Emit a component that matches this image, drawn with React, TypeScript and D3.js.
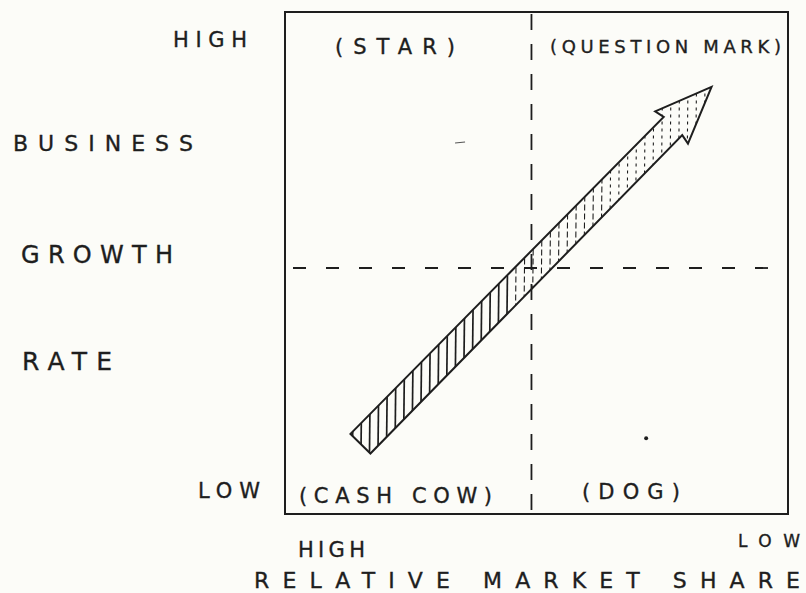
import React, { useEffect, useRef } from 'react';
import * as d3 from 'd3';

// axis words and quadrant names, as lettered on the sheet
const growthTicks = ['HIGH', 'LOW'];
const shareTicks = ['HIGH', 'LOW'];
const growthTitle = ['BUSINESS', 'GROWTH', 'RATE'];
const shareTitle = 'RELATIVE MARKET SHARE';
const quadrantNames = ['(STAR)', '(QUESTION MARK)', '(CASH COW)', '(DOG)'];

// where the dashed dividers cut each axis (0..1 across the box)
const shareSplit = 0.49;
const growthSplit = 0.49;

// the movement arrow, tail -> head, in box units (x left->right, y bottom->top)
const arrowTail = [0.15, 0.14];
const arrowHead = [0.848, 0.851];

// stray pencil marks on the original
const specks = [
  { x: 0.348, y: 0.739, kind: 'dash' },
  { x: 0.718, y: 0.151, kind: 'dot' },
];

const W = 806;
const H = 593;
const box = { left: 285, right: 788, top: 12, bottom: 514 };
const ink = '#1e1e1e';
const font = '"DejaVu Sans", sans-serif';

function App() {
  const ref = useRef<SVGSVGElement>(null);

  useEffect(() => {
    drawChart();
  }, []);

  function drawChart() {
    const svg = d3.select(ref.current);
    svg.selectAll('*').remove();

    const x = d3.scaleLinear().domain([0, 1]).range([box.left, box.right]);
    const y = d3.scaleLinear().domain([0, 1]).range([box.bottom, box.top]);

    svg.append('rect').attr('width', W).attr('height', H).attr('fill', '#fcfcf8');

    // frame
    svg
      .append('rect')
      .attr('x', x(0))
      .attr('y', y(1))
      .attr('width', x(1) - x(0))
      .attr('height', y(0) - y(1))
      .attr('fill', 'none')
      .attr('stroke', ink)
      .attr('stroke-width', 2);

    // dividers
    svg
      .append('line')
      .attr('x1', x(shareSplit))
      .attr('x2', x(shareSplit))
      .attr('y1', y(1) + 2)
      .attr('y2', y(0) - 2)
      .attr('stroke', ink)
      .attr('stroke-width', 1.8)
      .attr('stroke-dasharray', '16 14');
    svg
      .append('line')
      .attr('x1', x(0) + 8)
      .attr('x2', x(1) - 8)
      .attr('y1', y(growthSplit))
      .attr('y2', y(growthSplit))
      .attr('stroke', ink)
      .attr('stroke-width', 1.8)
      .attr('stroke-dasharray', '13 20');

    // arrow outline built along its own axis
    const tx = x(arrowTail[0]);
    const ty = y(arrowTail[1]);
    const hx = x(arrowHead[0]);
    const hy = y(arrowHead[1]);
    const len = Math.hypot(hx - tx, hy - ty);
    const ux = (hx - tx) / len;
    const uy = (hy - ty) / len;
    const nx = -uy;
    const ny = ux;
    const shaftHalf = 14;
    const headHalf = 23;
    const headLen = 55;
    const pt = (a: number, p: number): [number, number] => [tx + ux * a + nx * p, ty + uy * a + ny * p];
    const outline = [
      pt(0, -shaftHalf),
      pt(len - headLen, -shaftHalf + 1),
      pt(len - headLen - 2, -headHalf),
      pt(len, 0),
      pt(len - headLen - 2, headHalf),
      pt(len - headLen, shaftHalf - 1),
      pt(0, shaftHalf),
    ];

    const defs = svg.append('defs');
    defs
      .append('clipPath')
      .attr('id', 'arrow-clip')
      .append('path')
      .attr('d', d3.line()(outline) + 'Z');

    // hatching: firm strokes at the tail, broken ones toward the head
    const xs = outline.map(p => p[0]);
    const ys = outline.map(p => p[1]);
    const hatch = svg.append('g').attr('clip-path', 'url(#arrow-clip)');
    const [minX, maxX] = d3.extent(xs) as [number, number];
    const [minY, maxY] = d3.extent(ys) as [number, number];
    d3.range(minX + 4, maxX, 8.5).forEach(hxPos => {
      const frac = (hxPos - minX) / (maxX - minX);
      hatch
        .append('line')
        .attr('x1', hxPos - 2)
        .attr('x2', hxPos + 2)
        .attr('y1', maxY)
        .attr('y2', minY)
        .attr('stroke', ink)
        .attr('stroke-width', frac < 0.45 ? 1.7 : 1.1)
        .attr('stroke-dasharray', frac < 0.45 ? null : frac < 0.7 ? '6 3' : '3 4');
    });

    svg
      .append('path')
      .attr('d', d3.line()(outline) + 'Z')
      .attr('fill', 'none')
      .attr('stroke', ink)
      .attr('stroke-width', 2)
      .attr('stroke-linejoin', 'miter');

    // stray marks
    specks.forEach(s => {
      if (s.kind === 'dot') {
        svg.append('circle').attr('cx', x(s.x)).attr('cy', y(s.y)).attr('r', 2).attr('fill', ink);
      } else {
        svg
          .append('line')
          .attr('x1', x(s.x) - 5)
          .attr('x2', x(s.x) + 5)
          .attr('y1', y(s.y))
          .attr('y2', y(s.y) - 1)
          .attr('stroke', '#555')
          .attr('stroke-width', 1.2);
      }
    });

    const label = (text: string, lx: number, ly: number, width: number, size: number) =>
      svg
        .append('text')
        .attr('x', lx)
        .attr('y', ly)
        .attr('textLength', width)
        .attr('lengthAdjust', 'spacing')
        .attr('font-family', font)
        .attr('font-size', size)
        .attr('fill', ink)
        .attr('stroke', ink)
        .attr('stroke-width', 0.35)
        .text(text);

    // growth axis (left)
    label(growthTicks[0], 173, 47, 74, 21);
    label(growthTicks[1], 198, 498, 62, 21);
    label(growthTitle[0], 13, 151, 180, 22);
    label(growthTitle[1], 21, 263, 152, 24);
    label(growthTitle[2], 22, 370, 90, 25);

    // share axis (bottom)
    label(shareTicks[0], 298, 557, 67, 21);
    label(shareTicks[1], 738, 547, 62, 17);
    label(shareTitle, 254, 588, 546, 22);

    // quadrants
    label(quadrantNames[0], 335, 54, 120, 21);
    label(quadrantNames[1], 550, 53, 231, 18);
    label(quadrantNames[2], 299, 503, 193, 21);
    label(quadrantNames[3], 582, 499, 98, 21);
  }

  return (
    <svg
      ref={ref}
      width={W}
      height={H}
      style={{ position: 'absolute', left: 0, top: 0, display: 'block' }}
    />
  );
}

export default App;
